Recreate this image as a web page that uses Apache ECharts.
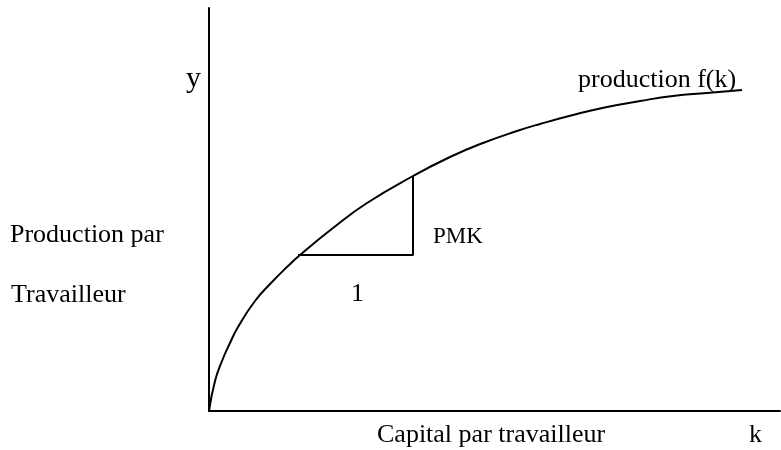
<!DOCTYPE html>
<html>
<head>
<meta charset="utf-8">
<script src="https://cdn.jsdelivr.net/npm/echarts@6/dist/echarts.min.js"></script>
<style>
  html, body { margin: 0; padding: 0; background: #fff; }
  #chart { width: 781px; height: 450px; }
</style>
</head>
<body>
<div id="chart"></div>
<script>
// production curve f(k) (arbitrary units)
const kValues = [0, 6, 13, 21, 29, 46, 63, 79, 91, 124, 158, 204, 241, 274, 308, 331, 364, 398, 431, 464, 498, 533];
const yValues = [0, 30, 50, 68, 84, 110, 129, 145, 156, 183, 208, 235, 254, 268, 280, 287, 296, 304, 310, 315, 318, 321];

// slope triangle (run of 1, rise PMK)
const triangleK = [89, 204, 204];
const triangleY = [156, 156, 235];

const kMax = 571;
const yMax = 403;

const serif = '"Liberation Serif", "DejaVu Serif", serif';

const chart = echarts.init(document.getElementById('chart'));

const curve = kValues.map((k, i) => [k, yValues[i]]);
const triangle = triangleK.map((k, i) => [k, triangleY[i]]);

const axisCommon = {
  type: 'value',
  min: 0,
  axisLine: { show: true, onZero: false, lineStyle: { color: '#000', width: 2 } },
  axisTick: { show: false },
  axisLabel: { show: false },
  splitLine: { show: false }
};

chart.setOption({
  animation: false,
  backgroundColor: '#fff',
  grid: { left: 209, right: 1, top: 8, bottom: 39 },
  xAxis: Object.assign({}, axisCommon, { max: kMax }),
  yAxis: Object.assign({}, axisCommon, { max: yMax }),
  series: [
    {
      type: 'line',
      data: curve,
      smooth: true,
      showSymbol: false,
      lineStyle: { color: '#000', width: 2 }
    },
    {
      type: 'line',
      data: triangle,
      showSymbol: false,
      lineStyle: { color: '#000', width: 2 }
    }
  ],
  graphic: [
    { type: 'text', left: 186, top: 64, style: { text: 'y', font: '30px ' + serif, fill: '#000' } },
    { type: 'text', left: 578, top: 67, style: { text: 'production f(k)', font: '26px ' + serif, fill: '#000' } },
    { type: 'text', left: 10, top: 222, style: { text: 'Production par', font: '26px ' + serif, fill: '#000' } },
    { type: 'text', left: 11, top: 282, style: { text: 'Travailleur', font: '26px ' + serif, fill: '#000' } },
    { type: 'text', left: 433, top: 225, style: { text: 'PMK', font: '23px ' + serif, fill: '#000' } },
    { type: 'text', left: 351, top: 281, style: { text: '1', font: '26px ' + serif, fill: '#000' } },
    { type: 'text', left: 377, top: 422, style: { text: 'Capital par travailleur', font: '26px ' + serif, fill: '#000' } },
    { type: 'text', left: 749, top: 422, style: { text: 'k', font: '26px ' + serif, fill: '#000' } }
  ]
});
</script>
</body>
</html>
